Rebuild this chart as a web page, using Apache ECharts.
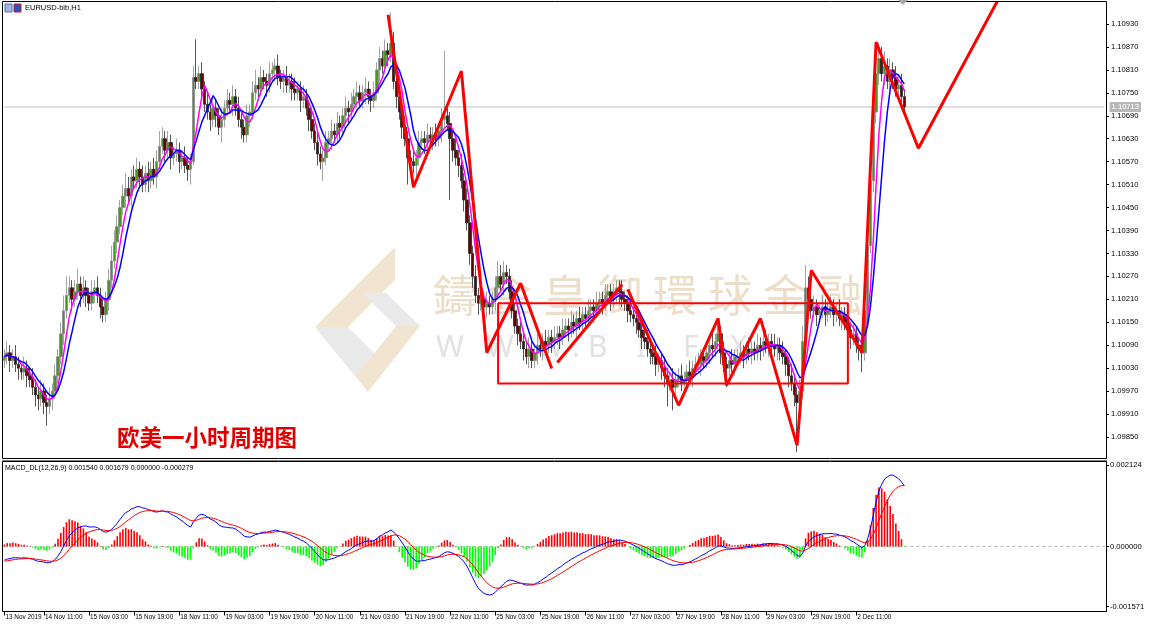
<!DOCTYPE html>
<html>
<head>
<meta charset="utf-8">
<script src="https://cdn.jsdelivr.net/npm/echarts@6/dist/echarts.min.js"></script>
<style>
html, body { margin: 0; padding: 0; background: #fff; }
#chart { width: 1170px; height: 627px; }
</style>
</head>
<body>
<div id="chart"></div>
<script>
// prices are kept in pips above BASE (1.10210 -> 121.0)
const BASE = 1.09, PIP = 0.0001;
const firstOpen = 105;

const closes = [
  106,107,105,106,104,103,102,103,101,100,
  98,96,95,97,94,93,95,97,101,106,
  112,118,122,124,121,123,125,122,124,122,
  120,123,124,122,119,117,121,126,131,136,
  140,145,148,150,148,153,152,155,153,151,
  154,152,155,153,157,161,163,160,162,158,
  159,160,157,158,156,155,157,179,178,180,
  176,172,170,168,171,169,166,168,171,173,
  172,174,171,168,166,164,169,170,175,177,
  176,179,178,177,180,181,182,179,178,179,
  177,178,176,175,176,173,174,171,168,165,
  162,159,157,158,162,163,165,164,167,166,
  169,171,170,172,174,175,173,175,176,174,
  173,175,181,184,182,186,185,188,178,174,
  170,166,163,158,157,156,158,162,163,162,
  164,163,164,163,165,168,169,167,163,160,
  158,156,152,147,141,133,127,122,120,121,
  119,120,119,121,124,127,125,128,127,123,
  118,114,112,110,108,106,108,105,107,109,
  108,110,109,111,110,111,112,111,113,114,
  113,115,114,116,115,117,116,118,119,118,
  120,121,120,122,123,121,122,124,123,121,
  120,118,117,116,115,113,111,110,108,107,
  106,104,105,103,101,99,100,98,100,101,
  99,100,102,101,103,104,104,106,105,107,
  109,108,110,112,107,104,103,105,104,106,
  106,107,106,108,107,108,107,109,108,110,
  109,110,109,108,109,107,106,104,101,99,
  96,94,97,110,124,121,118,119,117,118,
  119,117,118,119,117,118,116,117,115,113,
  111,112,109,108,107,118,135,152,170,180,
  184,180,182,178,181,179,176,177,174,171.3
];

const upWick = [
  2,3,2,2,3,2,1,3,2,2, 3,2,2,3,2,2,3,2,3,2,
  3,4,5,3,2,3,4,2,3,2, 2,3,2,3,2,2,2,3,4,3,
  3,2,3,4,3,2,3,3,2,3, 2,3,2,3,3,4,3,2,3,2,
  2,3,2,2,3,2,2,3,10,2, 3,2,3,2,3,2,2,3,2,3,
  2,3,2,3,2,2,3,2,3,4, 2,3,2,2,3,2,2,3,2,2,
  3,2,2,3,2,2,3,2,2,3, 2,3,2,2,3,2,3,2,3,2,
  2,3,2,3,2,3,2,2,3,2, 2,3,2,3,2,3,2,8,3,2,
  3,2,3,2,2,3,2,3,2,2, 3,2,2,3,2,3,17,2,3,2,
  3,2,3,2,3,2,2,3,2,3, 2,3,2,2,3,4,3,3,2,2,
  3,2,2,3,2,2,3,2,2,3, 2,2,3,2,2,3,2,2,3,2,
  2,3,2,2,3,2,2,3,2,2, 3,2,2,3,2,2,3,2,2,3,
  2,2,3,2,2,3,2,2,3,2, 2,3,2,2,3,2,2,3,2,2,
  3,2,2,3,2,2,3,2,2,3, 2,3,2,4,2,3,2,2,3,2,
  2,3,2,2,3,2,2,3,2,2, 3,2,2,3,2,2,3,2,2,3,
  2,2,3,4,6,3,2,3,2,2, 3,2,2,3,2,2,3,2,2,3,
  2,3,2,2,3,3,4,3,4,6, 4,3,4,2,3,2,3,2,3,2
];

const dnWick = [
  2,2,3,2,2,3,2,2,3,2, 2,3,3,2,3,5,2,3,2,2,
  2,3,2,2,3,2,2,3,2,3, 2,2,3,2,3,2,2,3,2,2,
  3,2,2,3,2,3,2,2,3,2, 2,3,2,2,3,2,2,3,2,3,
  2,2,3,2,2,3,4,1,2,2, 3,2,2,3,2,3,2,4,2,2,
  2,3,2,2,3,2,2,3,2,2, 3,2,2,3,2,2,3,2,2,3,
  2,2,3,2,2,3,2,2,3,2, 2,3,2,5,2,2,3,2,2,3,
  2,2,3,2,2,3,2,2,3,2, 3,2,2,3,2,2,3,2,2,3,
  2,3,2,7,2,2,3,2,2,3, 2,2,3,2,2,3,2,2,16,3,
  2,3,2,3,2,3,3,2,3,2, 2,3,2,2,3,2,2,3,2,2,
  2,2,3,2,3,2,3,2,2,3, 2,3,2,2,3,2,2,3,2,2,
  3,2,2,3,2,2,3,2,2,3, 2,2,3,2,2,3,2,2,3,2,
  2,3,2,2,3,2,3,2,2,3, 2,3,2,3,3,6,2,6,3,2,
  2,3,2,2,3,2,2,3,2,2, 3,2,2,2,3,2,5,2,2,3,
  2,2,3,2,2,3,2,2,3,2, 2,3,2,2,3,2,2,3,3,2,
  3,13,3,2,2,3,2,2,3,2, 2,3,2,2,3,2,2,3,2,2,
  3,2,2,3,5,2,3,2,3,3, 3,2,3,2,2,3,2,2,3,2
];

const barCount = 391;   // visible slots incl. the empty space on the right
const tickIdx = [0,14,30,46,62,78,94,110,126,142,158,174,190,206,222,238,254,270,286,302];
const tickLabels = ['13 Nov 2019','14 Nov 11:00','15 Nov 03:00','15 Nov 19:00','18 Nov 11:00',
  '19 Nov 03:00','19 Nov 19:00','20 Nov 11:00','21 Nov 03:00','21 Nov 19:00','22 Nov 11:00',
  '25 Nov 03:00','25 Nov 19:00','26 Nov 11:00','27 Nov 03:00','27 Nov 19:00','28 Nov 11:00',
  '29 Nov 03:00','29 Nov 19:00','2 Dec 11:00'];
const priceTicks = [1.0985,1.0991,1.0997,1.1003,1.1009,1.1015,1.1021,1.1027,1.1033,
  1.1039,1.1045,1.1051,1.1057,1.1063,1.1069,1.1075,1.1081,1.1087,1.1093];
const macdTicks = [-0.001571, 0, 0.002124];
const lastPrice = 1.10713;

const maFastLen = 5, maSlowLen = 8;
const macdSeed = { ema12: 1.10067, ema26: 1.10105, signal: -0.00039 };

// hand drawn trend lines, [bar index, price]
const zigA = [[136,1.10954],[145,1.10503],[162,1.10807],[171,1.10071],[183,1.10252],[194,1.10029]];
const zigB = [[196,1.10045],[219,1.10249]];
const zigC = [[221,1.10236],[239,1.09933],[253,1.10160],[256,1.09985],[268,1.10160],
  [281,1.09828],[286,1.10286],[304,1.10071],[309,1.10883],[324,1.10605],[352,1.10990]];
const box = { i0: 175, i1: 299, top: 1.10200, bottom: 1.09990 };

// ---- build series ----
const px = v => +(BASE + v * PIP).toFixed(5);
const candles = closes.map((c, i) => {
  const o = i === 0 ? firstOpen : closes[i - 1];
  return [px(o), px(c), px(Math.min(o, c) - dnWick[i]), px(Math.max(o, c) + upWick[i])];
});
const sma = n => closes.map((c, i) => {
  const s = closes.slice(Math.max(0, i - n + 1), i + 1);
  return px(s.reduce((a, b) => a + b, 0) / s.length);
});
const maFast = sma(maFastLen), maSlow = sma(maSlowLen);

let e12 = macdSeed.ema12, e26 = macdSeed.ema26, sig = macdSeed.signal;
const macdLine = [], sigLine = [], hist = [];
closes.forEach(c => {
  const p = BASE + c * PIP;
  e12 += (p - e12) * 2 / 13;
  e26 += (p - e26) * 2 / 27;
  const m = e12 - e26;
  sig += (m - sig) * 2 / 10;
  macdLine.push(m); sigLine.push(sig); hist.push(2 * (m - sig));
});

const cats = [];
for (let i = 0; i < barCount; i++) {
  const k = tickIdx.indexOf(i);
  cats.push(k >= 0 ? tickLabels[k] : '');
}
const isTick = i => tickIdx.indexOf(i) >= 0;

const boxLine = [[box.i0, box.top],[box.i1, box.top],[box.i1, box.bottom],[box.i0, box.bottom],[box.i0, box.top]];

const redLine = (data, w) => ({
  type: 'line', data: data, xAxisIndex: 0, yAxisIndex: 0, symbol: 'none', z: 6,
  lineStyle: { color: '#ff0000', width: w }, silent: true
});

// ---- watermark ----
const wmChars = ['鑄','金','皇','御','環','球','金','融'];
const wmUrl = ['W','W','W','.','B','I','F','X'];
const wmUrlX = [436, 486, 536, 572, 588, 636, 683, 730];
const wm = [];
wmChars.forEach((ch, k) => wm.push({ type: 'text', x: 433 + k * 55, y: 273, z: 0,
  style: { text: ch, fill: '#ecdfca', font: '44px "Noto Sans CJK TC"' } }));
wmUrl.forEach((ch, k) => wm.push({ type: 'text', x: wmUrlX[k], y: 333, z: 0,
  style: { text: ch, fill: '#e2e2e2', font: '30px "Noto Sans"' } }));

const chart = echarts.init(document.getElementById('chart'), null, { renderer: 'canvas' });
chart.setOption({
  animation: false,
  backgroundColor: '#fff',
  grid: [
    { left: 3, top: 3, width: 1103, height: 455 },
    { left: 3, top: 462.5, width: 1103, height: 149 }
  ],
  xAxis: [
    { type: 'category', gridIndex: 0, data: cats, boundaryGap: true,
      axisLine: { show: false }, axisTick: { show: false }, axisLabel: { show: false } },
    { type: 'category', gridIndex: 1, data: cats, boundaryGap: true,
      axisLine: { show: true, onZero: false, lineStyle: { color: '#000', width: 1 } },
      axisTick: { show: true, alignWithLabel: true, interval: i => isTick(i), length: 4, lineStyle: { color: '#000' } },
      axisLabel: { interval: i => isTick(i), align: 'left', margin: 3, fontSize: 6.4,
        fontFamily: 'Liberation Sans', color: '#000', padding: [0, 0, 0, 1] } }
  ],
  yAxis: [
    { type: 'value', gridIndex: 0, position: 'right', min: 1.097951, max: 1.109849, scale: true,
      axisLine: { show: true, lineStyle: { color: '#000' } },
      axisTick: { show: true, length: 3, customValues: priceTicks, lineStyle: { color: '#000' } },
      axisLabel: { customValues: priceTicks, formatter: v => v.toFixed(5), fontSize: 7.6,
        fontFamily: 'Liberation Sans', color: '#000', margin: 5 },
      splitLine: { show: false } },
    { type: 'value', gridIndex: 1, position: 'right', min: -0.0017, max: 0.0022,
      axisLine: { show: true, lineStyle: { color: '#000' } },
      axisTick: { show: true, length: 3, customValues: macdTicks, lineStyle: { color: '#000' } },
      axisLabel: { customValues: macdTicks, formatter: v => v.toFixed(6), fontSize: 7.6,
        fontFamily: 'Liberation Sans', color: '#000', margin: 4 },
      splitLine: { show: false } }
  ],
  series: [
    // current price line with its label on the price scale
    { type: 'line', data: [[0, lastPrice], [barCount - 1, lastPrice]], xAxisIndex: 0, yAxisIndex: 0,
      symbol: 'none', z: 1, silent: true, lineStyle: { color: '#c0c0c0', width: 1 },
      endLabel: { show: true, formatter: lastPrice.toFixed(5), color: '#fff', backgroundColor: '#b8b8b8',
        fontSize: 7.6, fontFamily: 'Liberation Sans', padding: [1, 2], distance: 5 } },
    { type: 'candlestick', data: candles, xAxisIndex: 0, yAxisIndex: 0, barWidth: 3, z: 3,
      itemStyle: { color: '#4a9624', color0: '#6a0000', borderColor: '#8c8c8c', borderColor0: '#2a2a2a', borderWidth: 0.8 } },
    { type: 'line', data: maFast, xAxisIndex: 0, yAxisIndex: 0, symbol: 'none', z: 4,
      lineStyle: { color: '#ff00ff', width: 1.5 } },
    { type: 'line', data: maSlow, xAxisIndex: 0, yAxisIndex: 0, symbol: 'none', z: 4,
      lineStyle: { color: '#0000ff', width: 1.5 } },
    redLine(zigA, 3), redLine(zigB, 3), redLine(zigC, 3), redLine(boxLine, 2),
    // MACD pane
    { type: 'line', data: [[0, 0], [barCount - 1, 0]], xAxisIndex: 1, yAxisIndex: 1, symbol: 'none',
      z: 1, silent: true, lineStyle: { color: '#b4b4b4', width: 1, type: [3, 3] } },
    { type: 'bar', data: hist, xAxisIndex: 1, yAxisIndex: 1, barWidth: 1.6, z: 2,
      itemStyle: { color: p => (p.value >= 0 ? '#ff0000' : '#00ff00') } },
    { type: 'line', data: macdLine, xAxisIndex: 1, yAxisIndex: 1, symbol: 'none', z: 3,
      lineStyle: { color: '#0000ff', width: 1 } },
    { type: 'line', data: sigLine, xAxisIndex: 1, yAxisIndex: 1, symbol: 'none', z: 3,
      lineStyle: { color: '#ff0000', width: 1 } }
  ],
  graphic: [
    // logo of the watermark
    { type: 'polygon', z: 0, shape: { points: [[315,327],[395,247],[395,280],[348,327]] }, style: { fill: '#f1e5d2' } },
    { type: 'polygon', z: 0, shape: { points: [[315,327],[348,327],[384,363],[368,392]] }, style: { fill: '#e9e9e9' } },
    { type: 'polygon', z: 0, shape: { points: [[362,293],[386,293],[420,326],[396,326]] }, style: { fill: '#e9e9e9' } },
    { type: 'polygon', z: 0, shape: { points: [[368,392],[420,326],[396,326],[356,376]] }, style: { fill: '#f1e5d2' } },
    ...wm,
    // frames
    { type: 'rect', z: 10, shape: { x: 2.5, y: 1.5, width: 1104, height: 457 }, style: { fill: 'none', stroke: '#000', lineWidth: 1 } },
    { type: 'line', z: 10, shape: { x1: 2, y1: 460.5, x2: 1107, y2: 460.5 }, style: { stroke: '#808080', lineWidth: 1 } },
    { type: 'rect', z: 10, shape: { x: 2.5, y: 461.5, width: 1104, height: 150 }, style: { fill: 'none', stroke: '#000', lineWidth: 1 } },
    { type: 'polygon', z: 10, shape: { points: [[898,0],[908,0],[903,5]] }, style: { fill: '#a8a8a8' } },
    // header
    { type: 'rect', z: 10, shape: { x: 5, y: 4, width: 7, height: 8 }, style: { fill: '#9fb8e0', stroke: '#5070b0' } },
    { type: 'rect', z: 10, shape: { x: 14, y: 4, width: 7, height: 8 }, style: { fill: '#3050c0', stroke: '#c02020' } },
    { type: 'text', z: 10, x: 25, y: 4, style: { text: 'EURUSD-bib,H1', fill: '#000', font: '7.5px "Liberation Sans"' } },
    { type: 'text', z: 10, x: 5, y: 465, style: { text: 'MACD_DL(12,26,9) 0.001540 0.001679 0.000000 -0.000279', fill: '#000', font: '7px "Liberation Sans"' } },
    { type: 'text', z: 10, x: 117, y: 426, style: { text: '欧美一小时周期图', fill: '#e00000', font: 'bold 22.5px "Noto Sans CJK SC"' } }
  ]
});
</script>
</body>
</html>
